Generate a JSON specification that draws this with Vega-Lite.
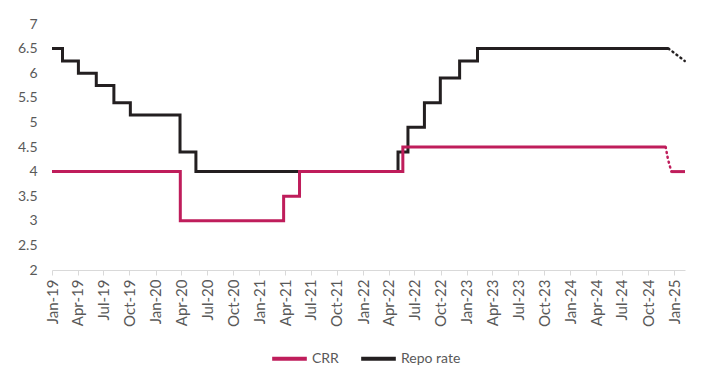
{
  "$schema": "https://vega.github.io/schema/vega-lite/v6.json",
  "width": 633,
  "height": 246,
  "autosize": {"type": "none"},
  "padding": {"left": 52, "top": 24, "right": 24, "bottom": 106},
  "background": "#ffffff",
  "config": {
    "font": "Lato",
    "view": {"stroke": null},
    "axis": {"labelFont": "Lato", "labelColor": "#595959", "grid": false}
  },
  "data": {
    "values": [
      {"date": "2019/01/01", "series": "Repo rate", "rate": 6.5, "part": "a"},
      {"date": "2019/02/07", "series": "Repo rate", "rate": 6.25, "part": "a"},
      {"date": "2019/04/04", "series": "Repo rate", "rate": 6.0, "part": "a"},
      {"date": "2019/06/06", "series": "Repo rate", "rate": 5.75, "part": "a"},
      {"date": "2019/08/07", "series": "Repo rate", "rate": 5.4, "part": "a"},
      {"date": "2019/10/04", "series": "Repo rate", "rate": 5.15, "part": "a"},
      {"date": "2020/03/27", "series": "Repo rate", "rate": 4.4, "part": "a"},
      {"date": "2020/05/22", "series": "Repo rate", "rate": 4.0, "part": "a"},
      {"date": "2022/05/04", "series": "Repo rate", "rate": 4.4, "part": "a"},
      {"date": "2022/06/08", "series": "Repo rate", "rate": 4.9, "part": "a"},
      {"date": "2022/08/05", "series": "Repo rate", "rate": 5.4, "part": "a"},
      {"date": "2022/09/30", "series": "Repo rate", "rate": 5.9, "part": "a"},
      {"date": "2022/12/07", "series": "Repo rate", "rate": 6.25, "part": "a"},
      {"date": "2023/02/08", "series": "Repo rate", "rate": 6.5, "part": "a"},
      {"date": "2024/12/12", "series": "Repo rate", "rate": 6.5, "part": "a"},
      {"date": "2024/12/12", "series": "Repo rate", "rate": 6.5, "part": "b"},
      {"date": "2025/02/07", "series": "Repo rate", "rate": 6.25, "part": "b"},
      {"date": "2019/01/01", "series": "CRR", "rate": 4.0, "part": "a"},
      {"date": "2020/03/28", "series": "CRR", "rate": 3.0, "part": "a"},
      {"date": "2021/03/27", "series": "CRR", "rate": 3.5, "part": "a"},
      {"date": "2021/05/22", "series": "CRR", "rate": 4.0, "part": "a"},
      {"date": "2022/05/21", "series": "CRR", "rate": 4.5, "part": "a"},
      {"date": "2024/12/02", "series": "CRR", "rate": 4.5, "part": "a"},
      {"date": "2024/12/02", "series": "CRR", "rate": 4.5, "part": "b"},
      {"date": "2024/12/10", "series": "CRR", "rate": 4.25, "part": "b"},
      {"date": "2024/12/22", "series": "CRR", "rate": 4.0, "part": "b"},
      {"date": "2024/12/22", "series": "CRR", "rate": 4.0, "part": "c"},
      {"date": "2025/02/08", "series": "CRR", "rate": 4.0, "part": "c"}
    ]
  },
  "encoding": {
    "x": {
      "field": "date",
      "type": "temporal",
      "scale": {"domain": [{"year": 2019, "month": 1, "date": 1}, {"year": 2025, "month": 2, "date": 8}]},
      "axis": {
        "title": null,
        "format": "%b-%y",
        "tickCount": {"interval": "month", "step": 3},
        "labelAngle": -90,
        "labelAlign": "right",
        "labelBaseline": "middle",
        "labelFontSize": 15,
        "labelPadding": 4,
        "tickSize": 5,
        "tickColor": "#d9d9d9",
        "domainColor": "#d9d9d9",
        "labelOverlap": false
      }
    },
    "y": {
      "field": "rate",
      "type": "quantitative",
      "scale": {"domain": [2, 7], "nice": false, "zero": false},
      "axis": {
        "title": null,
        "values": [2, 2.5, 3, 3.5, 4, 4.5, 5, 5.5, 6, 6.5, 7],
        "format": "~g",
        "domain": false,
        "ticks": false,
        "labelPadding": 15,
        "labelFontSize": 14
      }
    },
    "color": {
      "field": "series",
      "type": "nominal",
      "scale": {"domain": ["CRR", "Repo rate"], "range": ["#bf1d5b", "#231f20"]}
    }
  },
  "layer": [
    {
      "transform": [{"filter": "datum.part !== 'b'"}],
      "mark": {"type": "line", "interpolate": "step-after", "strokeWidth": 3},
      "encoding": {
        "detail": {"field": "part"},
        "color": {
          "field": "series",
          "type": "nominal",
          "scale": {"domain": ["CRR", "Repo rate"], "range": ["#bf1d5b", "#231f20"]},
          "legend": {
            "title": null,
            "orient": "none",
            "direction": "horizontal",
            "legendX": 218,
            "legendY": 315,
            "symbolType": "stroke",
            "symbolSize": 1200,
            "symbolStrokeWidth": 4,
            "labelFont": "Lato",
            "labelFontSize": 14,
            "labelColor": "#595959",
            "labelOffset": 3,
            "columnPadding": 14,
            "padding": 0
          }
        }
      }
    },
    {
      "transform": [{"filter": "datum.part === 'b'"}],
      "mark": {"type": "line", "interpolate": "linear", "strokeWidth": 2.5, "strokeDash": [1, 4], "strokeCap": "round"},
      "encoding": {
        "color": {"field": "series", "type": "nominal", "legend": null}
      }
    }
  ]
}
